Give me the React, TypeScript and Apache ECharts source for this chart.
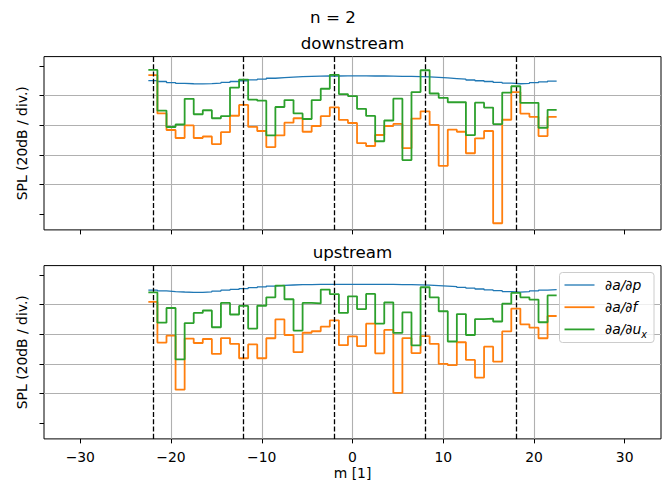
import React, { useEffect, useRef } from "react";
import * as echarts from "echarts";

// azimuthal mode numbers (each value is a stair centred on m, from m-0.5 to m+0.5)
const modes = [
  -22, -21, -20, -19, -18, -17, -16, -15, -14, -13, -12, -11, -10, -9, -8, -7, -6, -5, -4, -3, -2, -1,
  0, 1, 2, 3, 4, 5, 6, 7, 8, 9, 10, 11, 12, 13, 14, 15, 16, 17, 18, 19, 20, 21, 22,
];
const sectorBoundaries = [-22, -12, -2, 8, 18];
const xTicks = [-30, -20, -10, 0, 10, 20, 30];
const yTicks = [20, 40, 60, 80, 100, 120];
const seriesNames = ["∂a/∂p", "∂a/∂f", "∂a/∂u"];

// downstream (dB)
const downP = [
  110.2, 109.6, 108.9, 108.4, 108.1, 108.0, 108.2, 108.5, 109.0, 109.6, 110.1, 110.7, 111.2, 111.8, 112.2, 112.6,
  112.9, 113.1, 113.2, 113.3, 113.3, 113.4, 113.4, 113.4, 113.3, 113.3, 113.2, 113.1, 113.0, 112.9, 112.7, 112.4,
  112.0, 111.6, 111.2, 110.6, 110.1, 109.6, 109.0, 108.5, 108.1, 108.3, 108.8, 109.4, 109.9,
];
const downF = [
  113.9, 88.1, 76.9, 71.5, 80.0, 71.5, 72.5, 67.4, 75.4, 86.5, 93.8, 79.0, 76.2, 65.4, 73.2, 81.8, 84.8, 75.7,
  79.6, 86.2, 92.2, 83.7, 81.6, 68.0, 66.1, 73.5, 79.6, 81.0, 64.6, 84.6, 89.5, 80.4, 52.7, 77.1, 75.7, 61.2,
  71.3, 76.2, 14.0, 83.8, 102.5, 88.0, 85.8, 72.8, 85.8,
];
const downU = [
  117.4, 90.0, 78.9, 80.6, 97.9, 87.5, 90.2, 84.8, 86.3, 105.5, 110.9, 97.4, 96.7, 73.2, 92.4, 97.1, 88.1, 84.3,
  97.1, 104.7, 114.1, 101.1, 99.8, 91.2, 86.4, 69.3, 83.3, 98.0, 56.6, 102.5, 117.2, 101.5, 98.6, 95.6, 95.7,
  73.4, 95.3, 92.0, 80.9, 102.1, 106.4, 95.2, 95.2, 78.4, 90.5,
];

// upstream (dB)
const upP = [
  109.8, 109.3, 108.9, 108.6, 108.4, 108.4, 108.7, 109.2, 109.8, 110.3, 110.9, 111.5, 112.0, 112.6, 113.0, 113.3,
  113.5, 113.6, 113.7, 113.7, 113.8, 113.8, 113.8, 113.8, 113.8, 113.7, 113.7, 113.6, 113.5, 113.4, 113.2, 112.9,
  112.6, 112.2, 111.7, 111.2, 110.6, 110.0, 109.5, 108.9, 108.5, 108.8, 109.3, 109.8, 110.2,
];
const upF = [
  101.9, 74.5, 79.1, 42.7, 77.2, 74.2, 76.9, 66.8, 77.5, 73.6, 63.9, 73.2, 63.9, 77.4, 90.1, 79.6, 68.0, 81.1,
  82.1, 85.2, 89.5, 72.7, 78.6, 72.1, 87.2, 67.2, 83.0, 40.5, 77.5, 67.4, 78.8, 73.6, 60.1, 59.2, 74.7, 62.8,
  50.9, 71.7, 61.6, 82.0, 97.4, 86.8, 84.5, 77.4, 92.4,
];
const upU = [
  108.3, 87.9, 97.8, 63.1, 87.6, 94.5, 96.1, 84.8, 101.2, 93.4, 99.2, 83.9, 99.3, 105.0, 112.9, 103.7, 82.6,
  101.2, 100.9, 110.2, 107.1, 94.5, 105.7, 97.1, 107.3, 87.3, 101.5, 81.0, 94.8, 72.6, 111.8, 105.0, 95.6, 75.2,
  93.7, 79.6, 90.3, 90.7, 88.7, 100.7, 108.0, 105.0, 103.5, 88.2, 106.3,
];

const COLORS = ["#1f77b4", "#ff7f0e", "#2ca02c"];
const FONT = "'DejaVu Sans', sans-serif";

function toStairs(vals: number[]) {
  const pts: number[][] = modes.map((m, i) => [m - 0.5, vals[i]]);
  pts.push([modes[modes.length - 1] + 0.5, vals[vals.length - 1]]);
  return pts;
}

const minus = (v: number) => (v < 0 ? "\u2212" + Math.abs(v) : String(v));

function buildOption() {
  const gridTops = [56.6, 265.6];
  const gridH = 173.3;
  const grids = gridTops.map((t) => ({
    left: 44,
    right: 5,
    top: t,
    height: gridH,
    show: true,
    borderColor: "#000",
    borderWidth: 1,
    backgroundColor: "rgba(0,0,0,0)",
    containLabel: false,
    outerBoundsMode: "none",
  }));
  const xAxes = [0, 1].map((i) => ({
    type: "value",
    gridIndex: i,
    min: -34,
    max: 34,
    minInterval: 10,
    maxInterval: 10,
    axisLine: { show: false, onZero: false },
    axisTick: {
      show: true,
      length: 4.5,
      lineStyle: { color: "#000", width: 1 },
      customValues: xTicks,
    },
    axisLabel: {
      show: i === 1,
      customValues: xTicks,
      formatter: (v: number) => minus(v),
      fontSize: 13.9,
      color: "#000",
      fontFamily: FONT,
      margin: 10.8,
    },
    splitLine: {
      show: true,
      showMinLine: false,
      showMaxLine: false,
      lineStyle: { color: "#b0b0b0", width: 1.1 },
    },
    name: i === 1 ? "m [1]" : "",
    nameLocation: "middle",
    nameGap: 27.3,
    nameTextStyle: { fontSize: 13.9, color: "#000", fontFamily: FONT },
  }));
  const yAxes = [0, 1].map((i) => ({
    type: "value",
    gridIndex: i,
    min: 9.5,
    max: 126.4,
    minInterval: 20,
    maxInterval: 20,
    axisLine: { show: false, onZero: false },
    axisTick: {
      show: true,
      length: 4.5,
      lineStyle: { color: "#000", width: 1 },
      customValues: yTicks,
    },
    axisLabel: { show: false },
    splitLine: {
      show: true,
      showMinLine: false,
      showMaxLine: false,
      lineStyle: { color: "#b0b0b0", width: 1.1 },
    },
  }));

  const sets = [
    [downP, downF, downU],
    [upP, upF, upU],
  ];
  const series: any[] = [];
  sets.forEach((set, gi) => {
    set.forEach((vals, si) => {
      series.push({
        type: "line",
        name: seriesNames[si],
        xAxisIndex: gi,
        yAxisIndex: gi,
        data: toStairs(vals),
        step: "end",
        showSymbol: false,
        symbol: "none",
        silent: true,
        z: 3 + si,
        lineStyle: { color: COLORS[si], width: si === 0 ? 1.3 : 1.8 },
        itemStyle: { color: COLORS[si] },
      });
    });
    series.push({
      type: "line",
      xAxisIndex: gi,
      yAxisIndex: gi,
      data: [],
      silent: true,
      z: 10,
      markLine: {
        silent: true,
        symbol: ["none", "none"],
        label: { show: false },
        animation: false,
        lineStyle: { color: "#000", type: [5.1, 2.2], width: 1.3 },
        data: sectorBoundaries.map((x) => ({ xAxis: x })),
      },
    });
  });

  const txt = (text: string, x: number, y: number, size: number, extra: any = {}) => ({
    type: "text",
    x,
    y,
    z: 100,
    silent: true,
    ...extra,
    style: {
      text,
      x: 0,
      y: 0,
      align: "center",
      verticalAlign: "middle",
      fontSize: size,
      fontFamily: FONT,
      fill: "#000",
      ...(extra.style || {}),
    },
  });

  const legX = 559.5;
  const legY = 272.5;
  const rows = [285, 307.2, 329.4];
  const legend: any[] = [
    {
      type: "rect",
      z: 100,
      silent: true,
      shape: { x: legX, y: legY, width: 94.5, height: 70, r: 3 },
      style: { fill: "rgba(255,255,255,0.8)", stroke: "#cccccc", lineWidth: 1 },
    },
  ];
  rows.forEach((ry, i) => {
    legend.push({
      type: "line",
      z: 101,
      silent: true,
      shape: { x1: 564.5, y1: ry, x2: 594.5, y2: ry },
      style: { stroke: COLORS[i], lineWidth: i === 0 ? 1.3 : 1.8 },
    });
    legend.push({
      type: "text",
      z: 101,
      silent: true,
      x: 605,
      y: ry,
      style: {
        text: i === 2 ? seriesNames[i] + "{sub|x}" : seriesNames[i],
        x: 0,
        y: 0,
        align: "left",
        verticalAlign: "middle",
        fontSize: 13.9,
        fontStyle: "italic",
        fontFamily: FONT,
        fill: "#000",
        lineHeight: 20,
        rich: {
          sub: {
            fontSize: 9.7,
            fontStyle: "italic",
            fontFamily: FONT,
            fill: "#000",
            verticalAlign: "bottom",
            lineHeight: 11,
          },
        },
      },
    });
  });

  return {
    animation: false,
    backgroundColor: "#ffffff",
    textStyle: { fontFamily: FONT },
    grid: grids,
    xAxis: xAxes,
    yAxis: yAxes,
    series,
    graphic: [
      txt("n = 2", 333, 16.6, 16.7),
      txt("downstream", 352.5, 42.5, 16.7),
      txt("upstream", 352.5, 251.5, 16.7),
      txt("SPL (20dB / div.)", 22, 56.6 + gridH / 2, 13.9, { rotation: Math.PI / 2 }),
      txt("SPL (20dB / div.)", 22, 265.6 + gridH / 2, 13.9, { rotation: Math.PI / 2 }),
      ...legend,
    ],
  };
}

export default function App() {
  const ref = useRef<HTMLDivElement>(null);
  useEffect(() => {
    if (!ref.current) return;
    const chart = echarts.init(ref.current, null, { renderer: "svg" });
    chart.setOption(buildOption() as any);
    return () => chart.dispose();
  }, []);
  return (
    <div
      ref={ref}
      style={{ position: "fixed", left: 0, top: 0, width: 666, height: 484 }}
    />
  );
}
